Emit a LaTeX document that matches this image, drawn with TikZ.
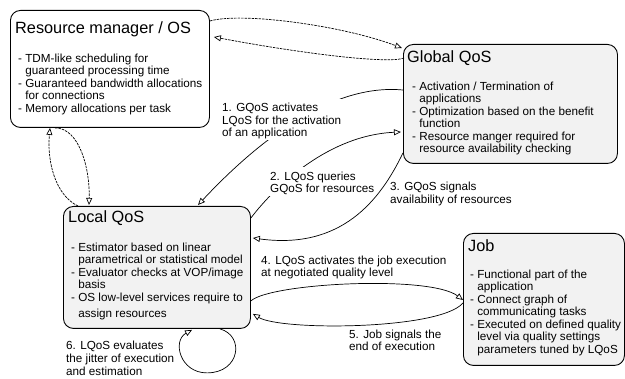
\documentclass[tikz,border=0pt]{standalone}
\usepackage{fontspec}
\setmainfont{Liberation Sans}
\usetikzlibrary{arrows.meta,calc}
\definecolor{boxgray}{HTML}{F2F2F2}
\begin{document}
\begin{tikzpicture}[x=1pt,y=-1pt,
  box/.style={draw=black, line width=0.9pt, rounded corners=10pt, anchor=north west, inner sep=0pt},
  gbox/.style={box, fill=boxgray},
  ttl/.style={anchor=base west, inner sep=0pt, font=\fontsize{16.3}{18}\selectfont},
  txt/.style={anchor=north west, inner sep=0pt, align=left, font=\fontsize{11.7}{12.5}\selectfont},
  lbl/.style={txt},
  conn/.style={draw=black, line width=0.7pt, -{Triangle[length=7pt,width=6pt,fill=white]}},
  dconn/.style={conn, dash pattern=on 2.5pt off 1pt}
]
\useasboundingbox (0,0) rectangle (625,379);

% boxes
\node[box, minimum width=199pt, minimum height=117pt] (rm) at (10,10) {};
\node[gbox, minimum width=214pt, minimum height=119pt] (gq) at (403,44) {};
\node[gbox, minimum width=187pt, minimum height=122pt] (lq) at (63,206) {};
\node[gbox, minimum width=161pt, minimum height=132pt] (job) at (463,233) {};

% titles
\node[ttl] (rmt) at (15,34) {Resource manager / OS};
\node[ttl] (gqt) at (407,63) {Global QoS};
\node[ttl] (lqt) at (68,223) {Local QoS};
\node[ttl] (jobt) at (468,252) {Job};

% bodies
\node[txt] (rmb) at (18,50) {\rule{0pt}{12pt}- TDM-like scheduling for\\
\phantom{- }guaranteed processing time\\
- Guaranteed bandwidth allocations\\
\phantom{- }for connections\\
- Memory allocations per task};
\node[txt] (gqb) at (412,78) {\rule{0pt}{12pt}- Activation / Termination of\\
\phantom{- }applications\\
- Optimization based on the benefit\\
\phantom{- }function\\
- Resource manger required for\\
\phantom{- }resource availability checking};
\node[txt] (lqb) at (71,239) {\rule{0pt}{12pt}- Estimator based on linear\\
\phantom{- }parametrical or statistical model\\
- Evaluator checks at VOP/image\\
\phantom{- }basis\\
- OS low-level services require to\\[3.5pt]
\phantom{- }assign resources};
\node[txt] (jobb) at (470,266) {\rule{0pt}{12pt}- Functional part of the\\
\phantom{- }application\\
- Connect graph of\\
\phantom{- }communicating tasks\\
- Executed on defined quality\\
\phantom{- }level via quality settings\\
\phantom{- }parameters tuned by LQoS};

% dashed connectors
\draw[dconn] ($(rm.north east)+(0,11)$) .. controls +(31,-9) and +(-61,-23) .. ($(gq.north west)+(-1,4)$);
\draw[dconn] ($(gq.north west)+(1,14)$) .. controls +(-15,6) and +(90,17) .. ($(rm.north east)+(4,27)$);
\draw[dconn] ($(lq.north west)+(15,0)$) .. controls +(-23,-11) and +(-3,33) .. ($(rm.south west)+(40,0)$);
\draw[dconn] ($(rm.south west)+(45,0)$) .. controls +(25,0) and +(1,-35) .. ($(lq.north west)+(26,-1)$);

% solid connectors
\draw[conn] ($(gq.north west)+(0,46)$) .. controls +(-63,-6) and +(72,-77) .. ($(lq.north west)+(135,-1)$);
\draw[conn] ($(lq.north east)+(0,12)$) .. controls +(25,-33) and +(-71,3) .. ($(gq.north west)+(-2,88)$);
\draw[conn] ($(gq.south west)+(0,-11)$) .. controls +(-23,48) and +(88,12) .. ($(lq.north east)+(2,32)$);
\draw[conn] ($(lq.south east)+(0,-28)$) .. controls +(20,-18) and +(-33,-25) .. ($(job.north west)+(0,67)$);
\draw[conn] ($(job.north west)+(0,70)$) .. controls +(-23,27) and +(28,17) .. ($(lq.south east)+(2,-15)$);
\coordinate (loopb) at ($(lq.south west)+(144,44)$);
\draw[conn] ($(lq.south west)+(157,0)$) .. controls +(25,7) and +(33,0) .. (loopb) .. controls +(-27,0) and +(-20,11) .. ($(lq.south west)+(129,1)$);

% labels
\node[lbl, fill=white, inner sep=1pt] (l1) at (221,98.7) {\rule{0pt}{12pt}1. GQoS activates\\LQoS for the activation\\of an application};
\node[lbl, fill=white, inner sep=1pt] (l2) at (269,167) {\rule{0pt}{12pt}2. LQoS queries\\GQoS for resources};
\node[lbl] (l3) at (390,178.7) {\rule{0pt}{12pt}3. GQoS signals\\availability of resources};
\node[lbl] (l4) at (261,252) {\rule{0pt}{12pt}4. LQoS activates the job execution\\at negotiated quality level};
\node[lbl] (l5) at (349,326) {\rule{0pt}{12pt}5. Job signals the\\end of execution};
\node[lbl, font=\fontsize{11.7}{13.3}\selectfont] (l6) at (66,337) {\rule{0pt}{12pt}6. LQoS evaluates\\the jitter of execution\\and estimation};
\end{tikzpicture}
\end{document}
